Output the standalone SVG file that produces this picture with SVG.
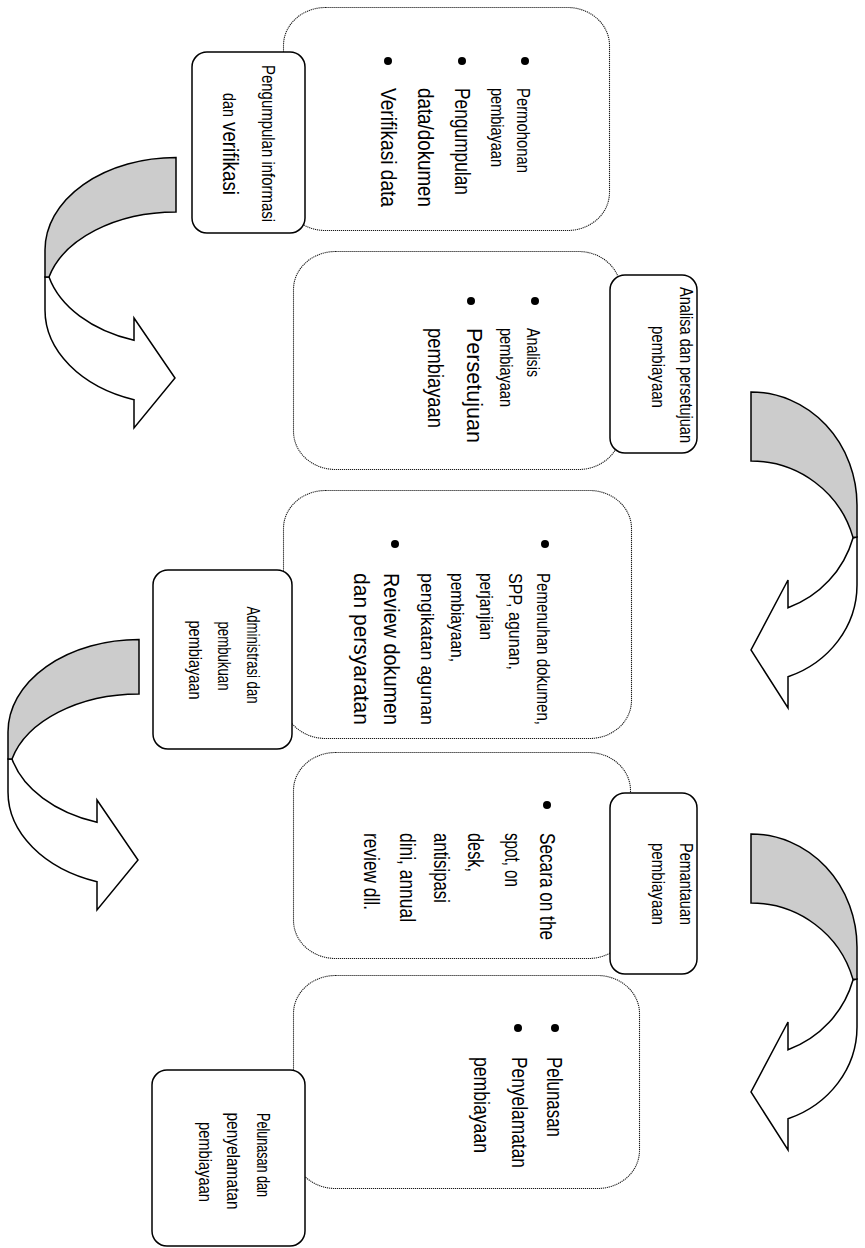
<svg xmlns="http://www.w3.org/2000/svg" xmlns:xlink="http://www.w3.org/1999/xlink" width="865" height="1248" viewBox="0 0 865 1248">
  <style>
    .detail { fill: #fff; stroke: #1a1a1a; stroke-width: 1.1; stroke-dasharray: 1.2 0.8; }
    .title { fill: #fff; stroke: #000; stroke-width: 1.5; }
    .dot { fill: #000; }
    .front { fill: #fff; stroke: #000; stroke-width: 1.5; stroke-linejoin: miter; }
    .back { fill: #cccccc; stroke: #000; stroke-width: 1.5; stroke-linejoin: miter; }
    text { font-family: "Liberation Sans Narrow", "Liberation Sans", Arial, sans-serif; fill: #000; }
    .s { font-size: 18px; }
    .l { font-size: 22px; }
    .c { text-anchor: middle; }
  </style>
  <defs>
    <!-- U-turn arrow bending down and back to the right -->
    <g id="turn-right">
      <path class="front" d="M45,277 L45,310 A131,94.7 0 0 0 134,399.7 L134,428 L175,378 L134,318 L134,340.3 A131,90 0 0 1 49,277 Z"/>
      <path class="back" d="M176,157.5 A131,92.5 0 0 0 45,250 L45,277 L49,277 A131,86 0 0 1 176,212 Z"/>
    </g>
    <!-- U-turn arrow bending down and back to the left -->
    <g id="turn-left">
      <path class="front" d="M857,537 L857,585 A106,98 0 0 1 788,676.8 L788,708 L751,650 L788,580 L788,607.8 A106,105 0 0 0 853,538 Z"/>
      <path class="back" d="M751,392 A106,113 0 0 1 857,505 L857,537 L853,537.4 A106,105 0 0 0 751,461 Z"/>
    </g>
  </defs>

  <g id="connectors">
    <use xlink:href="#turn-right"/>
    <use xlink:href="#turn-left"/>
    <use xlink:href="#turn-right" transform="translate(-37,482)"/>
    <use xlink:href="#turn-left" transform="translate(0,442)"/>
  </g>

  <!-- Stage 1 -->
  <g id="stage-1">
    <rect class="detail" x="283.5" y="7.5" width="326" height="223" rx="42" ry="38"/>
    <circle class="dot" cx="525" cy="61" r="4"/>
    <circle class="dot" cx="462" cy="61" r="4"/>
    <circle class="dot" cx="388" cy="61" r="4"/>
    <text class="s" transform="translate(517,88) rotate(90)" textLength="85" lengthAdjust="spacingAndGlyphs">Permohonan</text>
    <text class="s" transform="translate(491,88) rotate(90)" textLength="79" lengthAdjust="spacingAndGlyphs">pembiayaan</text>
    <text class="l" transform="translate(455,88) rotate(90)" textLength="107" lengthAdjust="spacingAndGlyphs">Pengumpulan</text>
    <text class="l" transform="translate(418,88) rotate(90)" textLength="119" lengthAdjust="spacingAndGlyphs">data/dokumen</text>
    <text class="l" transform="translate(381,88) rotate(90)" textLength="119" lengthAdjust="spacingAndGlyphs">Verifikasi data</text>
    <rect class="title" x="192" y="52" width="113" height="181" rx="15"/>
    <text class="s c" transform="translate(262,143.5) rotate(90)" textLength="157" lengthAdjust="spacingAndGlyphs">Pengumpulan informasi</text>
    <text class="s" transform="translate(223,93) rotate(90)" textLength="24" lengthAdjust="spacingAndGlyphs">dan</text>
    <text class="l" transform="translate(223,122) rotate(90)" textLength="73" lengthAdjust="spacingAndGlyphs">verifikasi</text>
  </g>

  <!-- Stage 2 -->
  <g id="stage-2">
    <rect class="detail" x="293.5" y="251.5" width="327" height="218" rx="42" ry="38"/>
    <circle class="dot" cx="535" cy="301" r="4"/>
    <circle class="dot" cx="471" cy="301" r="4"/>
    <text class="s" transform="translate(527,328) rotate(90)" textLength="49" lengthAdjust="spacingAndGlyphs">Analisis</text>
    <text class="s" transform="translate(500,328) rotate(90)" textLength="79" lengthAdjust="spacingAndGlyphs">pembiayaan</text>
    <text class="l" transform="translate(467,328) rotate(90)" textLength="115" lengthAdjust="spacingAndGlyphs">Persetujuan</text>
    <text class="l" transform="translate(428,328) rotate(90)" textLength="100" lengthAdjust="spacingAndGlyphs">pembiayaan</text>
    <rect class="title" x="610" y="275" width="87" height="178" rx="15"/>
    <text class="s c" transform="translate(680,365) rotate(90)" textLength="156" lengthAdjust="spacingAndGlyphs">Analisa dan persetujuan</text>
    <text class="s c" transform="translate(652,367) rotate(90)" textLength="82" lengthAdjust="spacingAndGlyphs">pembiayaan</text>
  </g>

  <!-- Stage 3 -->
  <g id="stage-3">
    <rect class="detail" x="283.5" y="490.5" width="348" height="248" rx="42" ry="38"/>
    <circle class="dot" cx="545" cy="544" r="4"/>
    <circle class="dot" cx="395" cy="544" r="4"/>
    <text class="s" transform="translate(537,573) rotate(90)" textLength="152" lengthAdjust="spacingAndGlyphs">Pemenuhan dokumen,</text>
    <text class="s" transform="translate(509,573) rotate(90)" textLength="97" lengthAdjust="spacingAndGlyphs">SPP, agunan,</text>
    <text class="s" transform="translate(480,573) rotate(90)" textLength="67" lengthAdjust="spacingAndGlyphs">perjanjian</text>
    <text class="s" transform="translate(451,573) rotate(90)" textLength="89" lengthAdjust="spacingAndGlyphs">pembiayaan,</text>
    <text class="s" transform="translate(421,573) rotate(90)" textLength="152" lengthAdjust="spacingAndGlyphs">pengikatan agunan</text>
    <text class="l" transform="translate(384,573) rotate(90)" textLength="152" lengthAdjust="spacingAndGlyphs">Review dokumen</text>
    <text class="l" transform="translate(354,573) rotate(90)" textLength="152" lengthAdjust="spacingAndGlyphs">dan persyaratan</text>
    <rect class="title" x="153" y="570" width="139" height="179" rx="15"/>
    <text class="s c" transform="translate(247,655) rotate(90)" textLength="97" lengthAdjust="spacingAndGlyphs">Administrasi dan</text>
    <text class="s c" transform="translate(218,656) rotate(90)" textLength="69" lengthAdjust="spacingAndGlyphs">pembukuan</text>
    <text class="s c" transform="translate(189,660) rotate(90)" textLength="79" lengthAdjust="spacingAndGlyphs">pembiayaan</text>
  </g>

  <!-- Stage 4 -->
  <g id="stage-4">
    <rect class="detail" x="293.5" y="752.5" width="337" height="206" rx="42" ry="38"/>
    <circle class="dot" cx="547" cy="805" r="4"/>
    <text class="l" transform="translate(540,833) rotate(90)" textLength="107" lengthAdjust="spacingAndGlyphs">Secara on the</text>
    <text class="l" transform="translate(505,833) rotate(90)" textLength="54" lengthAdjust="spacingAndGlyphs">spot, on</text>
    <text class="l" transform="translate(468,833) rotate(90)" textLength="39" lengthAdjust="spacingAndGlyphs">desk,</text>
    <text class="l" transform="translate(434,833) rotate(90)" textLength="70" lengthAdjust="spacingAndGlyphs">antisipasi</text>
    <text class="l" transform="translate(400,833) rotate(90)" textLength="89" lengthAdjust="spacingAndGlyphs">dini, annual</text>
    <text class="l" transform="translate(364,833) rotate(90)" textLength="77" lengthAdjust="spacingAndGlyphs">review dll.</text>
    <rect class="title" x="610" y="793" width="87" height="181" rx="15"/>
    <text class="s c" transform="translate(680,884) rotate(90)" textLength="82" lengthAdjust="spacingAndGlyphs">Pemantauan</text>
    <text class="s c" transform="translate(652,884) rotate(90)" textLength="82" lengthAdjust="spacingAndGlyphs">pembiayaan</text>
  </g>

  <!-- Stage 5 -->
  <g id="stage-5">
    <rect class="detail" x="293.5" y="975.5" width="346" height="213" rx="42" ry="38"/>
    <circle class="dot" cx="555" cy="1028" r="4"/>
    <circle class="dot" cx="518" cy="1028" r="4"/>
    <text class="l" transform="translate(547,1057) rotate(90)" textLength="80" lengthAdjust="spacingAndGlyphs">Pelunasan</text>
    <text class="l" transform="translate(512,1057) rotate(90)" textLength="111" lengthAdjust="spacingAndGlyphs">Penyelamatan</text>
    <text class="l" transform="translate(474,1057) rotate(90)" textLength="96" lengthAdjust="spacingAndGlyphs">pembiayaan</text>
    <rect class="title" x="152" y="1070" width="153" height="176" rx="15"/>
    <text class="s c" transform="translate(257,1155) rotate(90)" textLength="84" lengthAdjust="spacingAndGlyphs">Pelunasan dan</text>
    <text class="s c" transform="translate(227,1161) rotate(90)" textLength="97" lengthAdjust="spacingAndGlyphs">penyelamatan</text>
    <text class="s c" transform="translate(199,1162) rotate(90)" textLength="80" lengthAdjust="spacingAndGlyphs">pembiayaan</text>
  </g>
</svg>
